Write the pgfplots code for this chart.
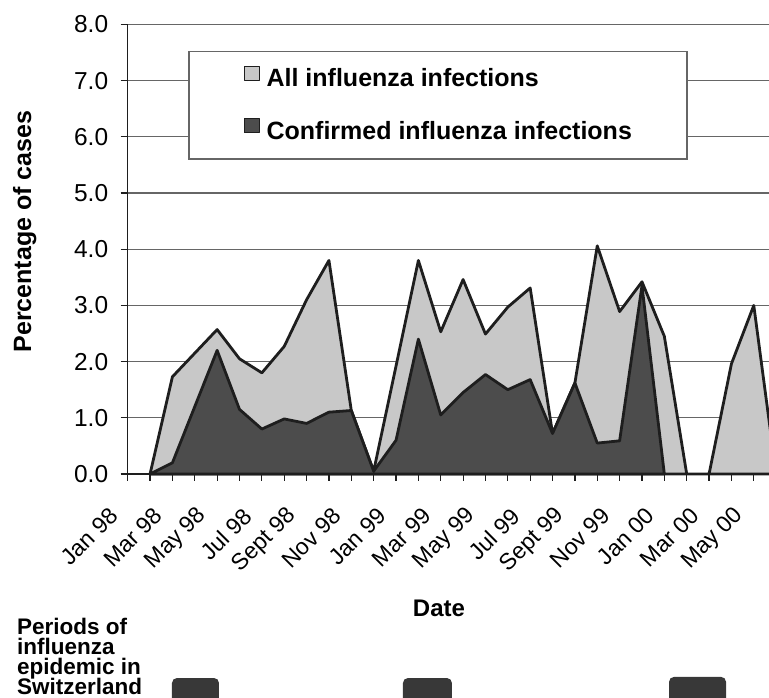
\documentclass[border=0pt]{standalone}
\usepackage{fontspec}
\setmainfont{Liberation Sans}
\usepackage{pgfplots}
\usepackage{pgfplotstable}
\pgfplotsset{compat=1.18}

\definecolor{allc}{HTML}{C8C8C8}
\definecolor{confc}{HTML}{4C4C4C}
\definecolor{linec}{HTML}{1E1E1E}
\definecolor{gridc}{HTML}{666666}
\definecolor{epic}{HTML}{383838}

\pgfplotstableread{
x y
1 0
2 1.73
3 2.15
4 2.57
5 2.05
6 1.80
7 2.27
8 3.10
9 3.80
10 1.13
11 0.05
12 1.92
13 3.80
14 2.53
15 3.46
16 2.49
17 2.97
18 3.31
19 0.72
20 1.62
21 4.06
22 2.89
23 3.42
24 2.45
25 0
26 0
27 1.96
28 3.00
29 0
}\alltab

\pgfplotstableread{
x y
1 0
2 0.20
3 1.20
4 2.20
5 1.15
6 0.80
7 0.98
8 0.90
9 1.10
10 1.13
11 0.05
12 0.60
13 2.40
14 1.05
15 1.45
16 1.77
17 1.50
18 1.68
19 0.72
20 1.62
21 0.55
22 0.59
23 3.35
24 0
}\conftab

\begin{document}
\setlength{\lineskiplimit}{-30bp}%
\begin{tikzpicture}
\useasboundingbox (0,0) rectangle (769bp,698bp);
\clip (0,0) rectangle (769bp,698bp);
\begin{axis}[
  at={(127.7bp,224bp)}, anchor=origin,
  x=22.36bp, y=56.2bp,
  xmin=0, xmax=28.68, ymin=0, ymax=8,
  clip=false,
  axis x line=bottom, axis y line=left,
  axis line style={-, draw=linec, line width=1.4bp},
  ymajorgrids, grid style={draw=gridc, line width=1.2bp},
  xtick={0,...,28},
  xticklabels={Jan 98,,Mar 98,,May 98,,Jul 98,,Sept 98,,Nov 98,,Jan 99,,Mar 99,,May 99,,Jul 99,,Sept 99,,Nov 99,,Jan 00,,Mar 00,,May 00},
  ytick={0,1,...,8},
  tick align=outside, major tick length=7bp,
  tick style={draw=linec, line width=1.2bp},
  yticklabel style={xshift=-9bp, font=\fontsize{24.5bp}{28bp}\selectfont, /pgf/number format/.cd, fixed, fixed zerofill, precision=1, assume math mode=true},
  xticklabel style={font=\fontsize{23bp}{26bp}\selectfont, xshift=-14bp, yshift=-31bp, rotate=45, anchor=east, inner sep=0pt},
  xlabel={Date}, ylabel={Percentage of cases},
  xlabel style={font=\fontsize{24bp}{28bp}\selectfont\bfseries, at={(axis description cs:0.4854,-0.3174)}, anchor=base},
  ylabel style={font=\fontsize{25bp}{28bp}\selectfont\bfseries, at={(axis description cs:-0.1505,0.5394)}, anchor=base},
  legend style={at={(axis description cs:0.0945,0.9415)}, anchor=north west, draw=gridc, line width=1.2bp, fill=white,
    inner xsep=55bp, inner ysep=14.5bp, row sep=26bp,
    font=\fontsize{25bp}{30bp}\selectfont\bfseries,
    nodes={inner sep=0pt, text height=18.5bp, text depth=5.3bp},
    /tikz/every odd column/.append style={column sep=6.7bp}},
  legend cell align=left,
  legend image code/.code={\draw[#1, line width=1bp, draw=linec] (0bp,0bp) rectangle (15bp,14bp);},
]
\addplot[fill=allc, draw=linec, line width=2.8bp, line join=round] table[x=x,y=y]{\alltab} \closedcycle;
\addlegendentry{All influenza infections}
\addplot[fill=confc, draw=linec, line width=2.8bp, line join=round] table[x=x,y=y]{\conftab} \closedcycle;
\addlegendentry{Confirmed influenza infections}
% periods of influenza epidemic
\addplot[forget plot, fill=epic, draw=none, rounded corners=5bp] coordinates {(1.981,-4.3) (1.981,-3.63) (4.083,-3.63) (4.083,-4.3)};
\addplot[forget plot, fill=epic, draw=none, rounded corners=5bp] coordinates {(12.31,-4.3) (12.31,-3.63) (14.50,-3.63) (14.50,-4.3)};
\addplot[forget plot, fill=epic, draw=none, rounded corners=5bp] coordinates {(24.21,-4.3) (24.21,-3.61) (26.76,-3.61) (26.76,-4.3)};
\end{axis}
\node[anchor=north west, inner sep=0pt, align=left, font=\fontsize{22.5bp}{20bp}\selectfont\bfseries] at (17bp,80bp) {Periods of\\influenza\\epidemic in\\Switzerland};
\end{tikzpicture}
\end{document}
